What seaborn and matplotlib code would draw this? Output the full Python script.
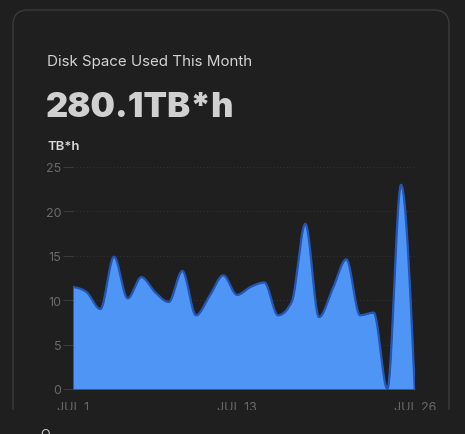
import numpy as np
import pandas as pd
import matplotlib
matplotlib.use('Agg')
import matplotlib.pyplot as plt
from matplotlib.patches import FancyBboxPatch, Rectangle
import seaborn as sns

# Daily disk usage, July 1 .. July 26 (TB*h)
days = list(range(1, 27))
values = [11.5, 10.9, 9.0, 14.9, 10.2, 12.6, 10.9, 9.8, 13.3, 8.3,
          10.5, 12.8, 10.6, 11.5, 12.0, 8.3, 9.8, 18.6, 8.1, 11.3,
          14.6, 8.3, 8.6, 0.0, 23.0, 0.0]
tick_days = [1, 13, 26]
tick_labels = ['JUL 1', 'JUL 13', 'JUL 26']
y_ticks = [0, 5, 10, 15, 20, 25]

title = 'Disk Space Used This Month'
total_label = '280.1TB*h'
unit_label = 'TB*h'

BG = '#1f1f1f'
BORDER = '#3b3b3f'
FILL = '#4e95f6'
LINE = '#2456b5'
MUTED = '#6a6a6a'


def monotone_curve(x, y, steps=30):
    """Monotone cubic (monotoneX-style) rendering of the series."""
    x = np.asarray(x, float)
    y = np.asarray(y, float)
    h = np.diff(x)
    s = np.diff(y) / h
    m = np.zeros_like(y)
    for k in range(1, len(y) - 1):
        s0, s1 = s[k - 1], s[k]
        p = (s0 * h[k] + s1 * h[k - 1]) / (h[k - 1] + h[k])
        m[k] = (np.sign(s0) + np.sign(s1)) * min(abs(s0), abs(s1), 0.5 * abs(p))
    m[0] = (3 * s[0] - m[1]) / 2
    m[-1] = (3 * s[-1] - m[-2]) / 2
    xs, ys = [], []
    for k in range(len(x) - 1):
        t = np.linspace(0, 1, steps, endpoint=False)
        h00 = 2 * t**3 - 3 * t**2 + 1
        h10 = t**3 - 2 * t**2 + t
        h01 = -2 * t**3 + 3 * t**2
        h11 = t**3 - t**2
        xs.append(x[k] + t * h[k])
        ys.append(h00 * y[k] + h10 * h[k] * m[k] + h01 * y[k + 1] + h11 * h[k] * m[k + 1])
    xs.append([x[-1]])
    ys.append([y[-1]])
    return np.concatenate(xs), np.clip(np.concatenate(ys), 0, None)


sns.set_theme(style='dark', rc={
    'figure.facecolor': BG,
    'axes.facecolor': BG,
    'savefig.facecolor': BG,
})
plt.rcParams['font.family'] = ['Inter', 'DejaVu Sans']

W, H = 465, 435
fig = plt.figure(figsize=(W / 100, H / 100), dpi=100)

# Card outline (runs off the bottom, clipped below)
card = FancyBboxPatch((13 / 100, -0.5), (449 - 13) / 100, (H - 11) / 100 + 0.5,
                      boxstyle='round,pad=0,rounding_size=0.15',
                      transform=fig.dpi_scale_trans, facecolor=BG,
                      edgecolor=BORDER, linewidth=1.0, zorder=-1)
fig.patches.append(card)

fig.text(47 / W, 1 - 62 / H, title, color='#d2d2d2', fontsize=10.9,
         va='center', ha='left')
fig.text(46 / W, 1 - 108 / H, total_label, color='#d0d0d0', fontsize=24.8,
         fontweight='black', va='center', ha='left')
fig.text(47 / W, 1 - 147 / H, unit_label, color='#d8d8d8', fontsize=9.5,
         fontweight='semibold', va='center', ha='left')

x0, x1 = 73, 414.7
y0, y1 = 390, 168
ax = fig.add_axes([x0 / W, 1 - y0 / H, (x1 - x0) / W, (y0 - y1) / H])

df = pd.DataFrame({'day': days, 'value': values})
cx, cy = monotone_curve(df['day'], df['value'])
curve = pd.DataFrame({'day': cx, 'value': cy})

ax.fill_between(curve['day'], 0, curve['value'], color=FILL, linewidth=0, zorder=2)
sns.lineplot(data=curve, x='day', y='value', color=LINE, linewidth=1.6,
             ax=ax, zorder=3, sort=False)

ax.set_xlim(1, 26)
ax.set_ylim(0, 25)
ax.set_xticks(tick_days)
ax.set_xticklabels(tick_labels)
ax.set_yticks(y_ticks)
ax.set_xlabel('')
ax.set_ylabel('')
ax.grid(axis='y', color='#333333', linestyle=(0, (1, 2)), linewidth=0.8, zorder=1)
ax.grid(axis='x', visible=False)
for sp in ax.spines.values():
    sp.set_visible(False)
ax.tick_params(axis='y', length=7.2, width=0.8, color='#3a3a3a', pad=1,
               labelsize=9, labelcolor=MUTED, left=True)
ax.tick_params(axis='x', length=0, pad=9, labelsize=9, labelcolor=MUTED)

# Bottom of the card is clipped by the viewport
fig.patches.append(Rectangle((0, 0), 1, 24 / H, transform=fig.transFigure,
                             facecolor=BG, edgecolor='none', zorder=10))
fig.text(45 / W, -6 / H, 'O', color='#cfcfcf', fontsize=9, ha='center',
         va='bottom', zorder=11)

fig.savefig('out.png', dpi=100)
